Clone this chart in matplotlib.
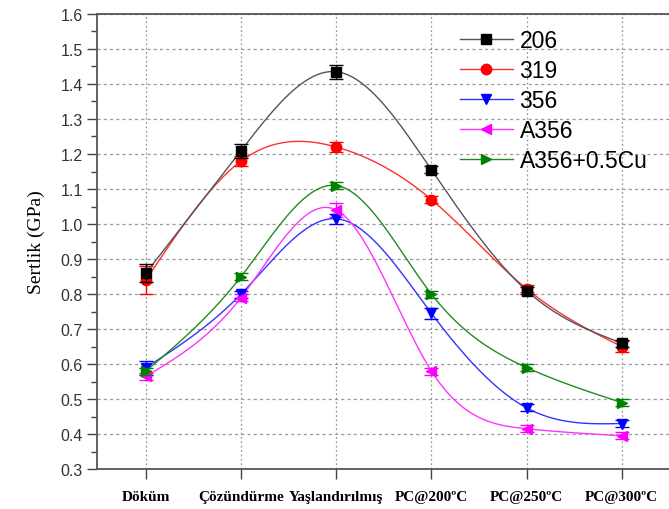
import numpy as np
import matplotlib
matplotlib.use("Agg")
import matplotlib.pyplot as plt
from matplotlib.ticker import MultipleLocator, FormatStrFormatter

stages = ["Döküm", "Çözündürme", "Yaşlandırılmış", "PC@200ºC", "PC@250ºC", "PC@300ºC"]

h206 = [0.86, 1.21, 1.435, 1.155, 0.81, 0.66]
h319 = [0.84, 1.18, 1.22, 1.07, 0.815, 0.65]
h356 = [0.59, 0.80, 1.015, 0.745, 0.475, 0.43]
hA356 = [0.565, 0.79, 1.04, 0.58, 0.415, 0.395]
hA356cu = [0.58, 0.85, 1.11, 0.80, 0.59, 0.49]

e206 = [0.025, 0.02, 0.02, 0.01, 0.01, 0.01]
e319 = [0.04, 0.015, 0.015, 0.01, 0.01, 0.015]
e356 = [0.02, 0.01, 0.015, 0.015, 0.01, 0.01]
eA356 = [0.01, 0.01, 0.02, 0.01, 0.01, 0.01]
eA356cu = [0.01, 0.01, 0.01, 0.01, 0.01, 0.01]

names = ["206", "319", "356", "A356", "A356+0.5Cu"]


def spline(x, y, n=200):
    # natural cubic spline through the points
    x = np.asarray(x, float)
    y = np.asarray(y, float)
    k = len(x)
    h = np.diff(x)
    A = np.zeros((k, k))
    r = np.zeros(k)
    A[0, 0] = A[-1, -1] = 1
    for i in range(1, k - 1):
        A[i, i - 1] = h[i - 1]
        A[i, i] = 2 * (h[i - 1] + h[i])
        A[i, i + 1] = h[i]
        r[i] = 6 * ((y[i + 1] - y[i]) / h[i] - (y[i] - y[i - 1]) / h[i - 1])
    M = np.linalg.solve(A, r)
    xs = np.linspace(x[0], x[-1], n)
    idx = np.clip(np.searchsorted(x, xs) - 1, 0, k - 2)
    x0, x1 = x[idx], x[idx + 1]
    hh = x1 - x0
    ys = (M[idx] * (x1 - xs) ** 3 / (6 * hh) + M[idx + 1] * (xs - x0) ** 3 / (6 * hh)
          + (y[idx] / hh - M[idx] * hh / 6) * (x1 - xs)
          + (y[idx + 1] / hh - M[idx + 1] * hh / 6) * (xs - x0))
    return xs, ys


fig = plt.figure(figsize=(6.69, 5.10), dpi=100)
ax = fig.add_axes([0.145, 0.0784, 0.856, 0.8922])

x = np.arange(len(stages))
series = [
    (h206, e206, "black", "s", "#555555", 6),
    (h319, e319, "red", "o", "#ff3030", 5),
    (h356, e356, "blue", "v", "#3333ff", 4),
    (hA356, eA356, "magenta", "<", "#ff33ff", 4),
    (hA356cu, eA356cu, "green", ">", "#228b22", 5),
]

for (vals, errs, col, mk, lcol, z), name in zip(series, names):
    xs, ys = spline(x, vals)
    ax.plot(xs, ys, color=lcol, lw=1.0, zorder=z)
    ax.errorbar(x, vals, yerr=errs, fmt="none", ecolor=col, elinewidth=1.0,
                capsize=5, capthick=1.0, zorder=z)
    ax.plot(x, vals, linestyle="none", marker=mk, color=col, markersize=7.5, zorder=z + 0.5)
    ax.plot([], [], color=lcol, lw=1.0, marker=mk, markerfacecolor=col,
            markeredgecolor=col, markersize=7.5, label=name)

ax.set_xlim(-0.515, 5.505)
ax.set_ylim(0.3, 1.6)
ax.yaxis.set_major_locator(MultipleLocator(0.1))
ax.yaxis.set_minor_locator(MultipleLocator(0.05))
ax.yaxis.set_major_formatter(FormatStrFormatter("%.1f"))
ax.set_xticks(x)
ax.set_xticklabels(stages, fontfamily="Liberation Serif", fontweight="bold", fontsize=11)
for lab in ax.get_yticklabels():
    lab.set_fontfamily("Liberation Sans")
ax.tick_params(axis="y", which="major", direction="out", length=7, width=1,
               labelsize=11.5, labelcolor="#333333", color="#444444", pad=3)
ax.tick_params(axis="y", which="minor", direction="out", length=4, width=1, color="#444444")
ax.tick_params(axis="x", which="major", direction="out", length=7, width=1,
               color="#444444", pad=8)

ax.grid(True, which="major", axis="y", color="#999999", linestyle=(0, (2.5, 2.5)), lw=0.9)
ax.grid(True, which="major", axis="x", color="#999999", linestyle=(0, (1.5, 2)), lw=0.9)
ax.set_axisbelow(True)

for s in ["left", "bottom", "top"]:
    ax.spines[s].set_color("#555555")
    ax.spines[s].set_linewidth(1.3)
ax.spines["right"].set_visible(False)

ax.set_ylabel("Sertlik (GPa)", fontfamily="Liberation Serif", fontsize=14, labelpad=11)

leg = fig.legend(loc="upper left", bbox_to_anchor=(0.6876, 0.941), frameon=False,
                 prop={"family": "Liberation Sans", "size": 16.5}, handlelength=2.3,
                 handletextpad=0.3, labelspacing=0.3, borderpad=0, borderaxespad=0)

fig.savefig("out.png", dpi=100)
